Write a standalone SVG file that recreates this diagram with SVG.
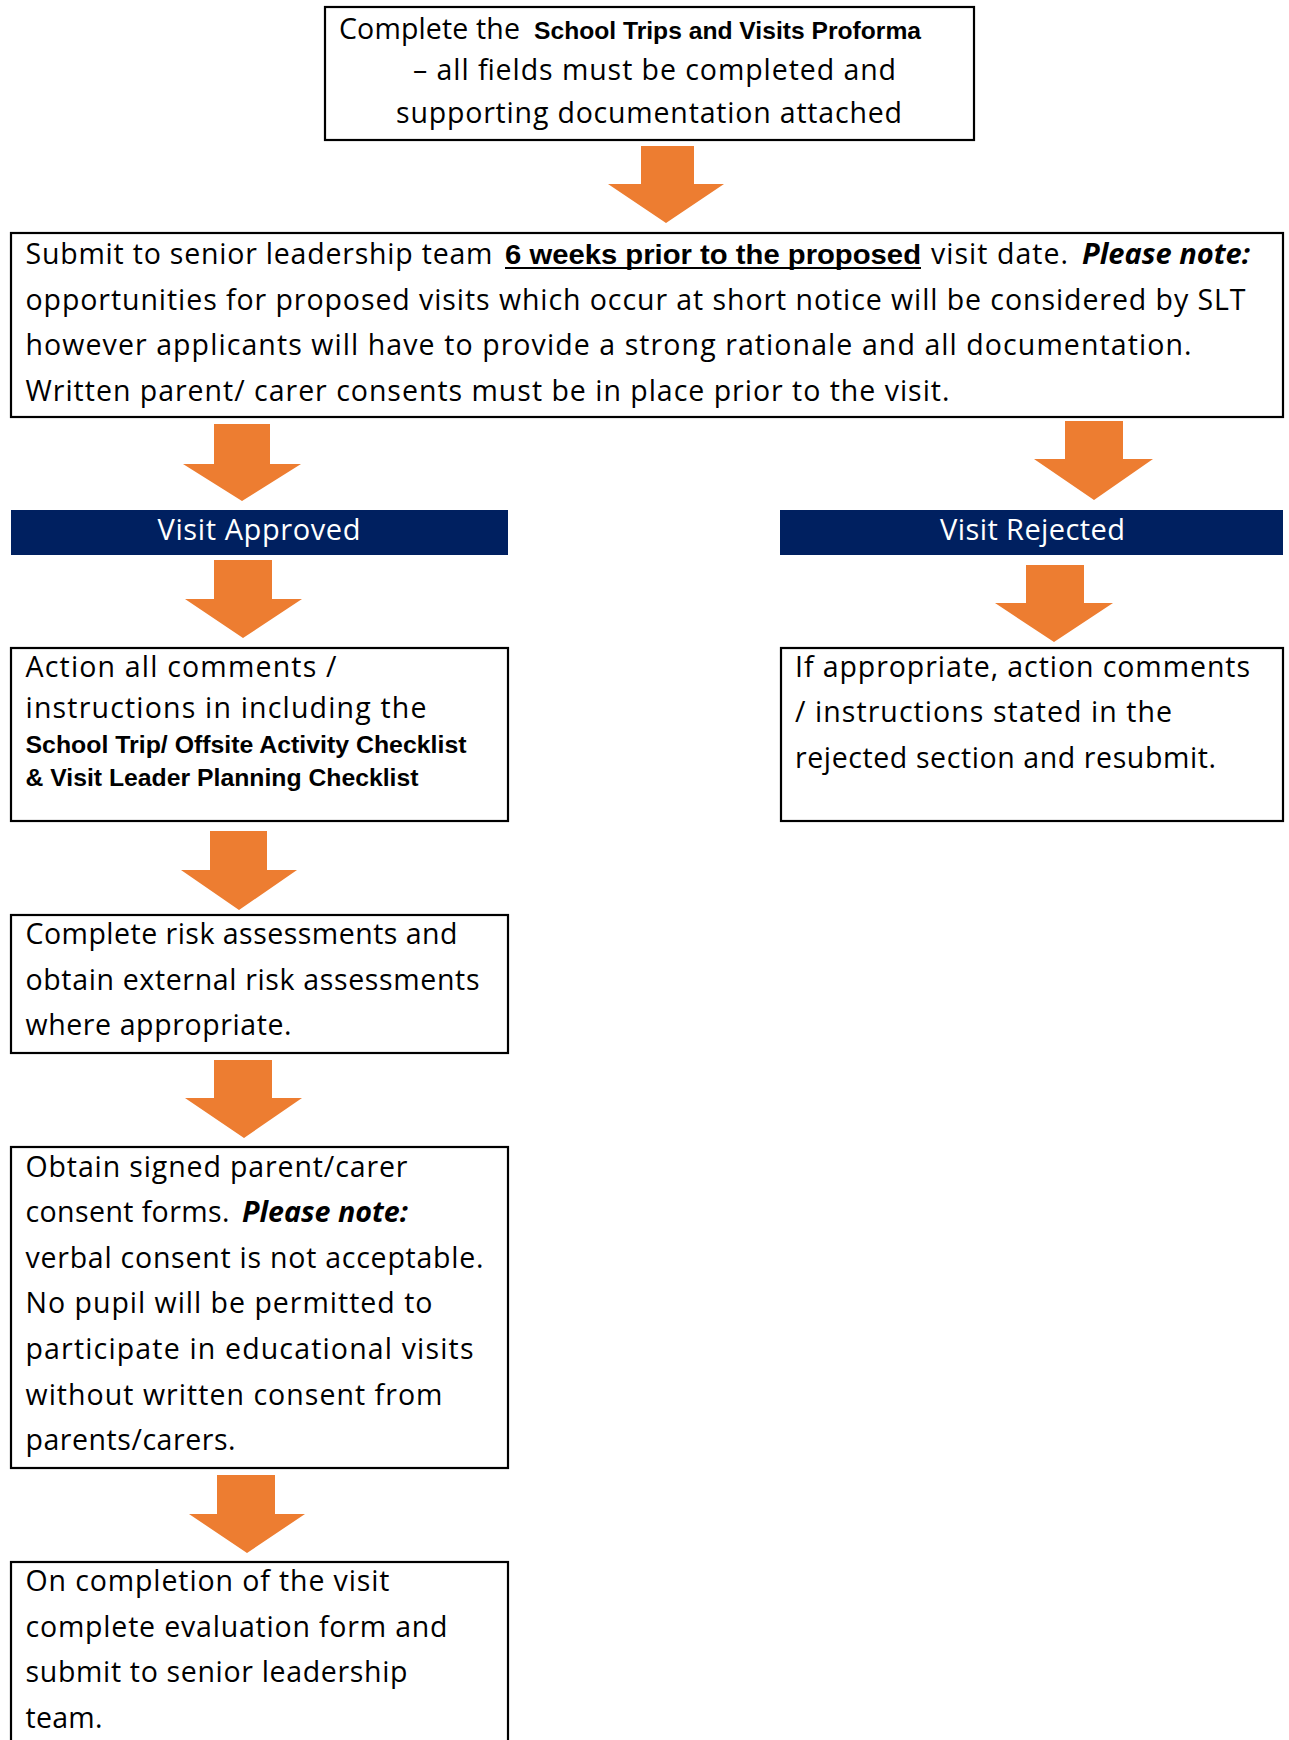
<svg xmlns="http://www.w3.org/2000/svg" width="1289" height="1740" viewBox="0 0 1289 1740">
<defs>
<style>
.box{fill:#fff;stroke:#000;stroke-width:2.2}
.bar{fill:#002060}
.arr{fill:#ED7D31}
text{font-family:"Open Sans","Noto Sans","DejaVu Sans",sans-serif;font-size:28.5px;fill:#000}
.hd{fill:#fff;font-size:29px}
.b{font-family:"Liberation Sans","Arial",sans-serif;font-weight:bold;font-size:24px}
.bu{font-family:"Liberation Sans","Arial",sans-serif;font-weight:bold;font-size:28px}
.bi{font-weight:bold;font-style:italic}
</style>
</defs>
<rect width="1289" height="1740" fill="#fff"/>

<g id="connectors">
<polygon class="arr" points="641,146 694,146 694,184 724,184 666,223 608,184 641,184"/>
<polygon class="arr" points="214,424 270,424 270,464 301,464 242,501 183,464 214,464"/>
<polygon class="arr" points="1065,421 1123,421 1123,459 1153,459 1094,500 1034,459 1065,459"/>
<polygon class="arr" points="214,560 272,560 272,599 302,599 243,638 185,599 214,599"/>
<polygon class="arr" points="1026,565 1084,565 1084,603 1113,603 1054,642 995,603 1026,603"/>
<polygon class="arr" points="210,831 267,831 267,870 297,870 239,910 181,870 210,870"/>
<polygon class="arr" points="214,1060 272,1060 272,1098 302,1098 244,1138 185,1098 214,1098"/>
<polygon class="arr" points="217,1475 275,1475 275,1514 305,1514 247,1553 189,1514 217,1514"/>
</g>

<g id="n1">
<rect class="box" x="325" y="7" width="649" height="133"/>
<text y="39"><tspan x="339" textLength="181">Complete the</tspan><tspan class="b" x="534" textLength="387" lengthAdjust="spacingAndGlyphs">School Trips and Visits Proforma</tspan></text>
<text x="413" y="80" textLength="483">– all fields must be completed and</text>
<text x="396" y="123" textLength="506">supporting documentation attached</text>
</g>

<g id="n2">
<rect class="box" x="11" y="233" width="1272" height="184"/>
<text y="264"><tspan x="25.5" textLength="467">Submit to senior leadership team</tspan><tspan class="bu" x="505" textLength="416" lengthAdjust="spacingAndGlyphs">6 weeks prior to the proposed</tspan><tspan x="931" textLength="137">visit date.</tspan><tspan class="bi" x="1082" textLength="168" lengthAdjust="spacingAndGlyphs">Please note:</tspan></text>
<line x1="505" y1="268" x2="921" y2="268" stroke="#000" stroke-width="2"/>
<text x="25.5" y="310" textLength="1220">opportunities for proposed visits which occur at short notice will be considered by SLT</text>
<text x="25.5" y="355" textLength="1166">however applicants will have to provide a strong rationale and all documentation.</text>
<text x="25.5" y="401" textLength="924">Written parent/ carer consents must be in place prior to the visit.</text>
</g>

<g id="n3">
<rect class="bar" x="11" y="510" width="497" height="45"/>
<text class="hd" x="157.5" y="540" textLength="203">Visit Approved</text>
</g>

<g id="n4">
<rect class="bar" x="780" y="510" width="503" height="45"/>
<text class="hd" x="940" y="540" textLength="185">Visit Rejected</text>
</g>

<g id="n5">
<rect class="box" x="11" y="648" width="497" height="173"/>
<text x="25.5" y="677" textLength="311">Action all comments /</text>
<text x="25.5" y="718" textLength="401">instructions in including the</text>
<text class="b" x="25.5" y="753" textLength="441" lengthAdjust="spacingAndGlyphs">School Trip/ Offsite Activity Checklist</text>
<text class="b" x="25.5" y="786" textLength="393" lengthAdjust="spacingAndGlyphs">&amp; Visit Leader Planning Checklist</text>
</g>

<g id="n6">
<rect class="box" x="781" y="648" width="502" height="173"/>
<text x="795" y="677" textLength="455">If appropriate, action comments</text>
<text x="795" y="722" textLength="377">/ instructions stated in the</text>
<text x="795" y="768" textLength="421">rejected section and resubmit.</text>
</g>

<g id="n7">
<rect class="box" x="11" y="915" width="497" height="138"/>
<text x="25.5" y="944" textLength="432">Complete risk assessments and</text>
<text x="25.5" y="990" textLength="454">obtain external risk assessments</text>
<text x="25.5" y="1035" textLength="266">where appropriate.</text>
</g>

<g id="n8">
<rect class="box" x="11" y="1147" width="497" height="321"/>
<text x="25.5" y="1177" textLength="382">Obtain signed parent/carer</text>
<text y="1222"><tspan x="25.5" textLength="204">consent forms.</tspan><tspan class="bi" x="242" textLength="166" lengthAdjust="spacingAndGlyphs">Please note:</tspan></text>
<text x="25.5" y="1268" textLength="458">verbal consent is not acceptable.</text>
<text x="25.5" y="1313" textLength="407">No pupil will be permitted to</text>
<text x="25.5" y="1359" textLength="448">participate in educational visits</text>
<text x="25.5" y="1405" textLength="417">without written consent from</text>
<text x="25.5" y="1450" textLength="210">parents/carers.</text>
</g>

<g id="n9">
<rect class="box" x="11" y="1562" width="497" height="190"/>
<text x="25.5" y="1591" textLength="364">On completion of the visit</text>
<text x="25.5" y="1637" textLength="422">complete evaluation form and</text>
<text x="25.5" y="1682" textLength="382">submit to senior leadership</text>
<text x="25.5" y="1728" textLength="77">team.</text>
</g>
</svg>
